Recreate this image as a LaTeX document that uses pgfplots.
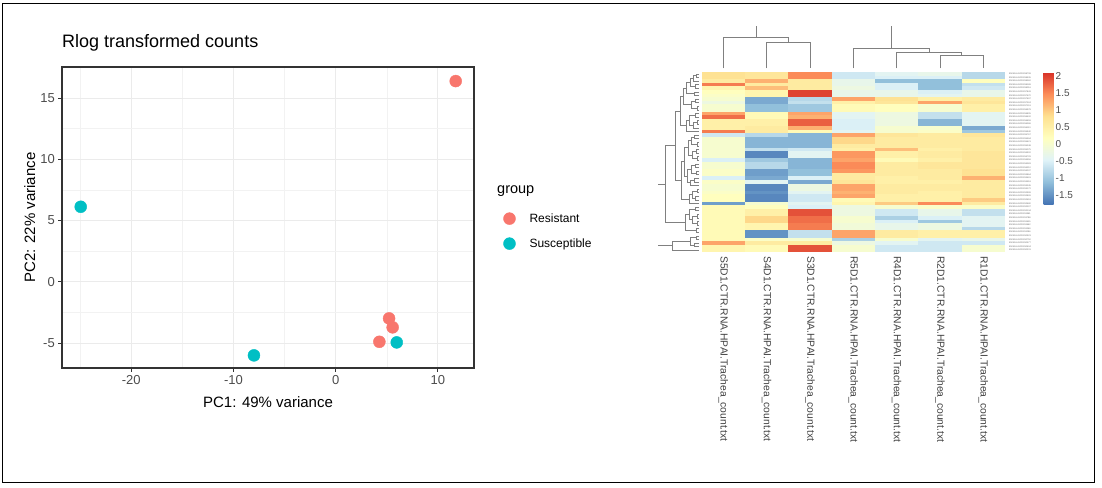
\documentclass[border=0pt]{standalone}
\usepackage{pgfplots}
\pgfplotsset{compat=1.18}
\usepackage{pgfplotstable}
\usepackage{fontspec}
\setmainfont{Liberation Sans}
\definecolor{res}{HTML}{F8766D}
\definecolor{sus}{HTML}{00BFC4}
\definecolor{dendro}{HTML}{808080}

\pgfdeclareplotmark{cell}{%
  \pgfpathrectangle{\pgfpoint{-21.75pt}{-1.85pt}}{\pgfpoint{43.5pt}{3.7pt}}%
  \pgfusepathqfill}

% heatmap values, one line per gene (top to bottom), columns left to right
\pgfplotstableread{
S5 S4 S3 R5 R4 R2 R1
0.8 0.7 1.5 -0.6 -0.4 -0.3 -0.8
0.8 0.7 1.5 -0.6 -0.5 -0.5 -0.8
0.6 1.2 0.6 -0.3 -1.1 -1.1 0.2
1.6 0.6 0.6 -0.3 -0.5 -1.1 -0.7
0.4 1.1 0.6 -0.2 -0.5 -1.1 -0.6
0.2 0.4 2.0 -0.3 -0.3 -0.5 -0.3
0.1 0.4 2.0 -0.3 -0.3 -0.4 -0.3
0.0 -1.3 -0.8 1.3 0.8 0.5 0.6
-0.2 -1.3 -0.7 0.5 0.7 1.3 0.7
0.0 -1.1 -1.0 0.3 0.2 0.0 0.5
0.0 -1.1 -1.0 0.3 0.2 0.0 0.5
1.3 0.3 1.3 -0.4 -0.2 -0.7 -0.4
1.7 0.3 1.2 -0.4 -0.2 -0.7 -0.4
0.5 0.5 1.8 -0.5 -0.2 -1.2 -0.4
0.5 0.5 1.8 -0.5 -0.2 -1.2 -0.4
0.5 0.6 1.2 -0.5 0.0 0.0 -1.3
1.6 0.6 0.3 -0.4 0.0 0.1 -1.0
-0.6 -0.8 -1.2 1.3 0.7 0.6 0.7
0.0 -1.2 -1.2 0.9 0.6 0.6 0.6
0.0 -1.2 -1.2 0.9 0.6 0.6 0.6
0.0 -1.2 -1.2 0.6 0.6 0.6 0.6
0.0 -0.7 -0.6 0.5 1.1 0.5 0.6
0.0 -1.6 -0.4 1.4 0.5 0.6 0.7
0.0 -1.6 -0.4 1.4 0.5 0.6 0.7
-0.5 -1.0 -1.2 1.3 0.3 0.5 0.7
0.0 -0.8 -1.2 1.5 0.6 0.7 0.7
0.0 -0.8 -1.2 1.5 0.6 0.7 0.7
0.1 -1.4 -1.1 1.4 0.6 0.6 0.8
0.1 -1.4 -1.1 0.6 0.6 0.6 0.8
-0.5 -1.3 -0.5 0.6 0.5 0.6 1.2
0.1 -0.4 -1.3 0.7 0.5 0.5 0.6
0.0 -1.6 -0.2 1.3 0.6 0.6 0.6
0.0 -1.6 -0.2 1.3 0.6 0.6 0.6
0.1 -1.5 -0.4 1.2 0.6 0.5 0.6
0.2 -1.6 -0.6 1.3 0.5 0.5 0.6
0.2 -1.6 -0.6 0.3 0.5 0.5 1.0
-1.4 0.0 -0.4 0.4 1.0 1.5 0.6
0.3 0.2 -0.5 -0.2 0.0 0.1 0.1
0.3 0.5 1.9 -0.2 -0.6 -0.3 -0.7
0.3 0.5 1.9 -0.2 -0.6 -0.3 -0.7
0.3 0.9 1.7 0.0 -0.9 -0.5 -0.4
0.3 0.9 1.7 0.0 -0.5 -1.0 -0.4
0.3 0.4 1.6 -0.1 -0.3 -0.2 -0.4
0.3 0.4 1.6 -0.1 -0.3 -0.2 -0.8
0.3 -1.5 -0.7 1.3 0.6 0.5 0.5
0.3 -1.5 -0.7 1.3 0.6 0.5 0.5
0.3 0.1 0.0 -0.9 0.0 -0.4 -0.3
1.3 0.6 0.6 -0.2 -0.4 -0.6 -0.6
0.4 0.3 1.9 0.0 -0.6 -0.6 0.0
0.4 0.3 1.9 0.0 -0.6 -0.6 0.0
}\heat

\pgfplotsset{
  heatcol/.style={scatter, only marks, mark=cell,
    scatter/use mapped color={draw=mapped color, fill=mapped color}},
}

\begin{document}
\begin{tikzpicture}
\useasboundingbox (0pt,0pt) rectangle (1102pt,-487pt);
\draw[line width=1.4pt] (2.5pt,-3.5pt) rectangle (1094.5pt,-482.5pt);

% ---------------- PCA plot ----------------
\begin{axis}[
  at={(62pt,-368pt)}, anchor=south west,
  scale only axis, width=412pt, height=301pt,
  xmin=-26.78, xmax=13.53, ymin=-7.04, ymax=17.53,
  xtick={-20,-10,0,10}, xticklabels={-20,-10,0,10},
  ytick={-5,0,5,10,15}, yticklabels={-5,0,5,10,15},
  minor xtick={-25,-15,-5,5}, minor ytick={-2.5,2.5,7.5,12.5},
  grid=both,
  major grid style={draw=black!8, line width=0.9pt},
  minor grid style={draw=black!5, line width=0.5pt},
  tick pos=left, tick align=outside,
  major tick length=3.7pt, minor tick length=0pt,
  tick style={color=black!80, line width=0.9pt},
  axis line style={draw=black!80, line width=1.1pt},
  ticklabel style={font=\fontsize{13}{15}\selectfont, text=black!70},
  xlabel={PC1: 49\% variance},
  ylabel={PC2: 22\% variance},
  xlabel style={at={(axis description cs:0.5,-0.1296)}, anchor=base, font=\fontsize{15}{18}\selectfont},
  ylabel style={at={(axis description cs:-0.0655,0.5)}, anchor=base, font=\fontsize{15}{18}\selectfont},
  title={Rlog transformed counts},
  title style={at={(axis description cs:0,1)}, anchor=base west, yshift=13.7pt, inner sep=0pt, font=\fontsize{18}{21}\selectfont},
  legend style={at={(axis description cs:1.0711,0.4547)}, anchor=west, draw=none, fill=none,
    font=\fontsize{12}{14}\selectfont, row sep=13pt, column sep=14pt, inner sep=0pt, nodes={inner sep=0pt}},
  legend cell align=left,
  legend image code/.code={\draw[#1] plot coordinates {(0pt,0pt)};},
]
\addplot[only marks, mark=*, mark size=6pt, color=res, mark options={fill=res, draw=res}]
  coordinates {(11.74,16.38) (5.22,-2.99) (5.57,-3.72) (4.27,-4.90)};
\addlegendentry{Resistant}
\addplot[only marks, mark=*, mark size=6pt, color=sus, mark options={fill=sus, draw=sus}]
  coordinates {(-24.95,6.12) (-8.0,-6.01) (5.97,-4.95)};
\addlegendentry{Susceptible}
\end{axis}
\node[anchor=base west, inner sep=0pt, font=\fontsize{14.5}{17}\selectfont] at (497pt,-193pt) {group};

% ---------------- heatmap ----------------
\begin{axis}[
  at={(701.7pt,-252pt)}, anchor=south west,
  scale only axis, width=303.3pt, height=180pt,
  xmin=-0.5, xmax=6.5, ymin=-49.5, ymax=0.5,
  axis line style={draw=none}, major tick length=0pt,
  xtick={0,1,2,3,4,5,6},
  xticklabels={S5D1.CTR.RNA.HPAI.Trachea\_count.txt,
               S4D1.CTR.RNA.HPAI.Trachea\_count.txt,
               S3D1.CTR.RNA.HPAI.Trachea\_count.txt,
               R5D1.CTR.RNA.HPAI.Trachea\_count.txt,
               R4D1.CTR.RNA.HPAI.Trachea\_count.txt,
               R2D1.CTR.RNA.HPAI.Trachea\_count.txt,
               R1D1.CTR.RNA.HPAI.Trachea\_count.txt},
  xticklabel style={rotate=-90, anchor=west, inner sep=0pt, font=\fontsize{10.3}{12}\selectfont, text=black!75},
  xticklabel shift=4pt,
  ytick={-49,-48,...,0},
  yticklabel pos=right,
  yticklabel={ENSGALG0000\number\numexpr 10231+\ticknum*173\relax},
  yticklabel style={anchor=west, inner sep=0pt, font=\fontsize{2.2}{2.4}\selectfont, text=black!60},
  yticklabel shift=4pt,
  colormap={rdylbu}{rgb255=(69,117,180) rgb255=(145,191,219) rgb255=(224,243,248) rgb255=(255,255,191) rgb255=(254,224,144) rgb255=(252,141,89) rgb255=(215,48,39)},
  point meta min=-1.76, point meta max=2.13,
  colorbar,
  colorbar style={
    at={(parent axis.north east)}, anchor=north west, xshift=30pt,
    scale only axis, width=10pt, height=132pt,
    xtick=\empty,
    ytick={-1.5,-1,-0.5,0,0.5,1,1.5,2},
    yticklabels={-1.5,-1,-0.5,0,0.5,1,1.5,2},
    yticklabel pos=right,
    yticklabel style={anchor=west, inner sep=0pt, font=\fontsize{10}{12}\selectfont, text=black!70},
    yticklabel shift=2pt,
    major tick length=0pt,
    axis line style={draw=none},
  },
]
\addplot[heatcol, point meta=\thisrow{S5}] table[x expr=0, y expr=-\coordindex] {\heat};
\addplot[heatcol, point meta=\thisrow{S4}] table[x expr=1, y expr=-\coordindex] {\heat};
\addplot[heatcol, point meta=\thisrow{S3}] table[x expr=2, y expr=-\coordindex] {\heat};
\addplot[heatcol, point meta=\thisrow{R5}] table[x expr=3, y expr=-\coordindex] {\heat};
\addplot[heatcol, point meta=\thisrow{R4}] table[x expr=4, y expr=-\coordindex] {\heat};
\addplot[heatcol, point meta=\thisrow{R2}] table[x expr=5, y expr=-\coordindex] {\heat};
\addplot[heatcol, point meta=\thisrow{R1}] table[x expr=6, y expr=-\coordindex] {\heat};
\end{axis}

% ---------------- column dendrogram ----------------
\begin{axis}[
  at={(701.7pt,-72pt)}, anchor=south west,
  scale only axis, width=303.3pt, height=52pt,
  xmin=-0.5, xmax=6.5, ymin=-72, ymax=-20,
  hide axis, clip=false]
\addplot[dendro, line width=0.7pt, unbounded coords=jump] coordinates {
 (1,-68.3) (1,-42.7) (2,-42.7) (2,-68.3) (nan,nan)
 (0,-68.3) (0,-37.3) (1.5,-37.3) (1.5,-42.7) (nan,nan)
 (0.75,-37.3) (0.75,-26) (nan,nan)
 (5,-68.3) (5,-55) (6,-55) (6,-68.3) (nan,nan)
 (4,-68.3) (4,-52.7) (5.5,-52.7) (5.5,-55) (nan,nan)
 (3,-68.3) (3,-48.3) (4.75,-48.3) (4.75,-52.7) (nan,nan)
 (3.875,-48.3) (3.875,-26)
};
\end{axis}

% ---------------- row dendrogram ----------------
\begin{axis}[
  at={(650pt,-252pt)}, anchor=south west,
  scale only axis, width=51.7pt, height=180pt,
  xmin=650, xmax=701.7, ymin=-49.5, ymax=0.5,
  hide axis, clip=false]
\addplot[dendro, line width=0.6pt, unbounded coords=jump] coordinates {
 (699,0) (696,0) (696,-1) (699,-1) (nan,nan)
 (696,-0.5) (693,-0.5) (693,-2) (699,-2) (nan,nan)
 (699,-3) (695,-3) (695,-4) (699,-4) (nan,nan)
 (693,-1.25) (690,-1.25) (690,-3.5) (695,-3.5) (nan,nan)
 (699,-5) (694,-5) (694,-6) (699,-6) (nan,nan)
 (690,-2.375) (686,-2.375) (686,-5.5) (694,-5.5) (nan,nan)
 (699,-7) (695,-7) (695,-8) (699,-8) (nan,nan)
 (699,-9) (697,-9) (697,-10) (699,-10) (nan,nan)
 (695,-7.5) (691,-7.5) (691,-9.5) (697,-9.5) (nan,nan)
 (686,-3.9375) (683,-3.9375) (683,-8.5) (691,-8.5) (nan,nan)
 (699,-11) (695,-11) (695,-12) (699,-12) (nan,nan)
 (699,-13) (697,-13) (697,-14) (699,-14) (nan,nan)
 (697,-13.5) (693,-13.5) (693,-15) (699,-15) (nan,nan)
 (695,-11.5) (689,-11.5) (689,-14.25) (693,-14.25) (nan,nan)
 (689,-12.875) (686,-12.875) (686,-16) (699,-16) (nan,nan)
 (683,-6.21875) (680,-6.21875) (680,-14.4375) (686,-14.4375) (nan,nan)
 (699,-17) (694,-17) (694,-18) (699,-18) (nan,nan)
 (699,-19) (697,-19) (697,-20) (699,-20) (nan,nan)
 (699,-21) (696,-21) (696,-22) (699,-22) (nan,nan)
 (699,-23) (697,-23) (697,-24) (699,-24) (nan,nan)
 (694,-17.5) (691,-17.5) (691,-19.5) (697,-19.5) (nan,nan)
 (696,-21.5) (692,-21.5) (692,-23.5) (697,-23.5) (nan,nan)
 (691,-18.5) (688,-18.5) (688,-22.5) (692,-22.5) (nan,nan)
 (699,-25) (695,-25) (695,-26) (699,-26) (nan,nan)
 (699,-27) (696,-27) (696,-28) (699,-28) (nan,nan)
 (699,-29) (694,-29) (694,-30) (699,-30) (nan,nan)
 (695,-25.5) (691,-25.5) (691,-27.5) (696,-27.5) (nan,nan)
 (694,-29.5) (690,-29.5) (690,-31) (699,-31) (nan,nan)
 (691,-26.5) (687,-26.5) (687,-30.25) (690,-30.25) (nan,nan)
 (688,-20.5) (684,-20.5) (684,-28.375) (687,-28.375) (nan,nan)
 (699,-32) (697,-32) (697,-33) (699,-33) (nan,nan)
 (699,-34) (695,-34) (695,-35) (699,-35) (nan,nan)
 (697,-32.5) (692,-32.5) (692,-34.5) (695,-34.5) (nan,nan)
 (692,-33.5) (689,-33.5) (689,-36) (699,-36) (nan,nan)
 (684,-24.4375) (681,-24.4375) (681,-34.75) (689,-34.75) (nan,nan)
 (680,-10.328) (675,-10.328) (675,-29.594) (681,-29.594) (nan,nan)
 (699,-37) (695,-37) (695,-38) (699,-38) (nan,nan)
 (699,-39) (697,-39) (697,-40) (699,-40) (nan,nan)
 (699,-41) (697,-41) (697,-42) (699,-42) (nan,nan)
 (697,-39.5) (692,-39.5) (692,-41.5) (697,-41.5) (nan,nan)
 (695,-37.5) (689,-37.5) (689,-40.5) (692,-40.5) (nan,nan)
 (699,-43) (696,-43) (696,-44) (699,-44) (nan,nan)
 (689,-39) (685,-39) (685,-43.5) (696,-43.5) (nan,nan)
 (675,-19.961) (665,-19.961) (665,-41.25) (685,-41.25) (nan,nan)
 (665,-30.606) (658,-30.606) (nan,nan)
 (699,-45) (696,-45) (696,-46) (699,-46) (nan,nan)
 (699,-47) (694,-47) (694,-48) (699,-48) (nan,nan)
 (696,-45.5) (690,-45.5) (690,-47.5) (694,-47.5) (nan,nan)
 (690,-46.5) (672,-46.5) (672,-49) (699,-49) (nan,nan)
 (672,-47.75) (658,-47.75)
};
\end{axis}
\end{tikzpicture}
\end{document}
